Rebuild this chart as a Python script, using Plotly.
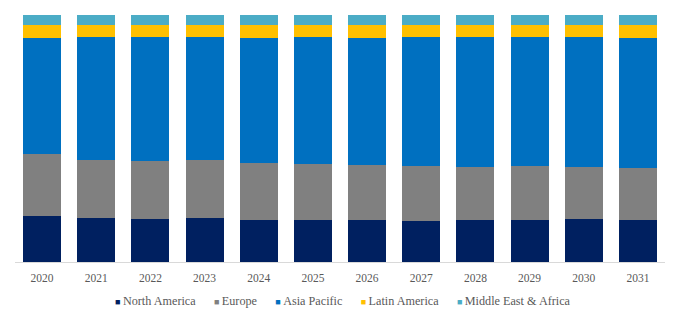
import plotly.graph_objects as go

years = ["2020", "2021", "2022", "2023", "2024", "2025",
         "2026", "2027", "2028", "2029", "2030", "2031"]

# Regional share of the market, % of each year's total
north_america = [18.6, 17.7, 17.3, 17.7, 17.0, 17.0, 17.0, 16.7, 17.0, 17.0, 17.3, 17.0]
europe        = [25.1, 23.7, 23.6, 23.5, 23.0, 22.8, 22.5, 22.1, 21.4, 21.8, 21.2, 21.0]
asia_pacific  = [47.3, 49.9, 50.4, 49.9, 50.9, 51.3, 51.5, 52.3, 52.7, 52.3, 52.6, 53.0]
latin_america = [5.2, 4.9, 4.9, 5.1, 5.3, 5.1, 5.2, 5.1, 5.1, 5.1, 5.1, 5.0]
mea           = [3.8, 3.8, 3.8, 3.8, 3.8, 3.8, 3.8, 3.8, 3.8, 3.8, 3.8, 4.0]

series = [
    ("North America", north_america, "#002060"),
    ("Europe", europe, "#808080"),
    ("Asia Pacific", asia_pacific, "#0070C0"),
    ("Latin America", latin_america, "#FFC000"),
    ("Middle East & Africa", mea, "#4BACC6"),
]

font_family = "Times New Roman"
text_color = "#595959"

fig = go.Figure()
for name, vals, color in series:
    fig.add_trace(go.Bar(
        x=years, y=vals, name=name,
        marker=dict(color=color, line=dict(width=0)),
        hoverinfo="x+y+name",
        showlegend=False,
    ))

# Compact legend row: coloured square + series name
legend_parts = [
    f"<span style='color:{color}; font-size:9px'>■</span>&#8201;{name}"
    for name, _, color in series
]
legend_text = "&nbsp;&nbsp;&nbsp;&nbsp;&nbsp;&nbsp;".join(legend_parts)

fig.add_annotation(
    text=legend_text, showarrow=False,
    xref="paper", yref="paper", x=0.505, y=-0.158,
    xanchor="center", yanchor="middle",
    font=dict(family=font_family, size=12.2, color=text_color),
)

fig.update_layout(
    barmode="stack",
    bargap=0.3,
    width=681, height=322,
    margin=dict(l=15, r=16, t=15, b=60),
    plot_bgcolor="white",
    paper_bgcolor="white",
    font=dict(family=font_family, size=11, color=text_color),
    xaxis=dict(
        showline=True, linecolor="#D9D9D9", linewidth=1,
        ticks="", showgrid=False, ticklabelstandoff=5,
        tickfont=dict(family=font_family, size=11.5, color=text_color),
    ),
    yaxis=dict(visible=False, range=[0, 100.2], showgrid=False),
    showlegend=False,
)

fig.write_html("out.html")
